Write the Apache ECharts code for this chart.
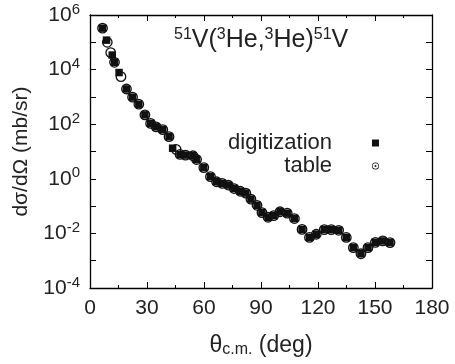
<!DOCTYPE html>
<html>
<head>
<meta charset="utf-8">
<script src="https://cdn.jsdelivr.net/npm/echarts@6/dist/echarts.min.js"></script>
<style>html,body{margin:0;padding:0;background:#fff}#c{width:455px;height:364px}</style>
</head>
<body>
<div id="c"></div>
<script>
// digitization (filled squares)
var digAngles = [6.6, 8.7, 11.7, 12.9, 15.3, 19.2, 22.4, 25.7, 28.9, 31.9, 34.8, 38.3, 41.6, 43.5, 47.4, 50.3, 54.2, 56.1, 59.9, 63.4, 66.6, 69.6, 72.8, 75.9, 79.1, 82.0, 84.7, 87.9, 90.5, 93.7, 96.7, 100.0, 103.8, 107.6, 111.6, 115.5, 119.1, 123.3, 127.0, 130.9, 134.9, 138.6, 142.6, 146.3, 150.2, 154.1, 157.9];
var digValues = [3.3e5, 1.2e5, 3.4e4, 1.85e4, 7.8e3, 1.95e3, 9.8e2, 5.4e2, 2.2e2, 1.07e2, 80, 63, 35, 13.2, 7.8, 7.4, 7.0, 5.1, 2.57, 1.2, 0.78, 0.68, 0.59, 0.44, 0.35, 0.30, 0.18, 0.107, 0.058, 0.039, 0.045, 0.062, 0.055, 0.035, 0.014, 0.0071, 0.0093, 0.0138, 0.0138, 0.0130, 0.0071, 0.0030, 0.0018, 0.0030, 0.0047, 0.0053, 0.0046];
// table (open circles)
var tabAngles = [6.6, 9.1, 10.9, 12.9, 16.3, 19.2, 22.4, 25.7, 28.9, 31.9, 34.8, 38.3, 41.6, 45.3, 47.4, 50.3, 54.2, 56.1, 59.9, 63.4, 66.6, 69.6, 72.8, 75.9, 79.1, 82.0, 84.7, 87.9, 90.5, 93.7, 96.7, 100.0, 103.8, 107.6, 111.6, 115.5, 119.1, 123.3, 127.0, 130.9, 134.9, 138.6, 142.6, 146.3, 150.2, 154.1, 157.9];
var tabValues = [3.3e5, 1.0e5, 4.2e4, 1.85e4, 5.5e3, 1.95e3, 9.8e2, 5.4e2, 2.2e2, 1.07e2, 80, 63, 35, 12, 7.8, 7.4, 7.0, 5.1, 2.57, 1.2, 0.78, 0.68, 0.59, 0.44, 0.35, 0.30, 0.18, 0.107, 0.058, 0.039, 0.045, 0.062, 0.055, 0.035, 0.014, 0.0071, 0.0093, 0.0138, 0.0138, 0.0130, 0.0071, 0.0030, 0.0018, 0.0030, 0.0047, 0.0053, 0.0046];
var xTicks = [0, 30, 60, 90, 120, 150, 180];
var yMinExp = -4, yMaxExp = 6;

function zip(a, b) { return a.map(function (v, i) { return [v, b[i]]; }); }

var FONT = 'Liberation Sans, Arial, Helvetica, sans-serif';
var TXT = '#222';
var chart = echarts.init(document.getElementById('c'), null, { renderer: 'canvas' });

var ringPath = 'path://M0,-5A5,5 0 1,1 0,5A5,5 0 1,1 0,-5ZM0,-4A4,4 0 1,0 0,4A4,4 0 1,0 0,-4ZM0,-1.4A1.4,1.4 0 1,1 0,1.4A1.4,1.4 0 1,1 0,-1.4Z';

var axisCommon = {
  axisLine: { show: true, onZero: false, lineStyle: { color: '#000', width: 1.3 } },
  splitLine: { show: false }
};

chart.setOption({
  animation: false,
  backgroundColor: '#fff',
  textStyle: { fontFamily: FONT },
  title: {
    left: 174, top: 27, padding: 0,
    text: '{s|51}{b|V(}{s|3}{b|He,}{s|3}{b|He)}{s|51}{b|V}',
    textStyle: {
      fontWeight: 'normal',
      rich: {
        b: { fontSize: 25, color: TXT, fontFamily: FONT, fontWeight: 'normal' },
        s: { fontSize: 16, color: TXT, fontFamily: FONT, fontWeight: 'normal', padding: [0, 0, 11, 0] }
      }
    }
  },
  legend: {
    orient: 'vertical',
    right: 76, top: 132, padding: 0,
    align: 'right',
    itemWidth: 7, itemHeight: 7,
    itemGap: 1,
    textStyle: { fontSize: 22, color: TXT, fontFamily: FONT, padding: [0, 35, 0, 0] },
    data: [
      { name: 'digitization', icon: 'rect', itemStyle: { color: '#111', borderWidth: 0, opacity: 1 } },
      { name: 'table', icon: ringPath, itemStyle: { color: '#111', borderWidth: 0, opacity: 1 } }
    ]
  },
  grid: { left: 90, right: 23, top: 15, bottom: 76, containLabel: false },
  xAxis: [
    Object.assign({}, axisCommon, {
      type: 'value', min: 0, max: 180, interval: 30,
      position: 'bottom',
      axisTick: { inside: true, length: 6, lineStyle: { color: '#000' } },
      minorTick: { show: true, splitNumber: 2, length: 3, lineStyle: { color: '#000' } },
      axisLabel: { fontSize: 21, color: TXT, margin: 10, fontFamily: FONT,
        formatter: function (v) { return xTicks.indexOf(v) >= 0 ? String(v) : ''; } },
      name: '{b|θ}{s|c.m.}{b| (deg)}',
      nameLocation: 'middle', nameGap: 45,
      nameTextStyle: {
        rich: {
          b: { fontSize: 23, color: TXT, fontFamily: FONT },
          s: { fontSize: 16, color: TXT, fontFamily: FONT, padding: [9, 0, 0, 0] }
        }
      }
    }),
    Object.assign({}, axisCommon, {
      type: 'value', min: 0, max: 180, interval: 30,
      position: 'top',
      axisTick: { inside: true, length: 6, lineStyle: { color: '#000' } },
      minorTick: { show: true, splitNumber: 2, length: 3, lineStyle: { color: '#000' } },
      axisLabel: { show: false }
    })
  ],
  yAxis: [
    Object.assign({}, axisCommon, {
      type: 'log', logBase: 10,
      min: Math.pow(10, yMinExp), max: Math.pow(10, yMaxExp), interval: 1,
      position: 'left',
      axisTick: { inside: true, length: 6, lineStyle: { color: '#000' } },
      axisLabel: {
        margin: 10, color: TXT, fontFamily: FONT,
        formatter: function (v) {
          var e = Math.round(Math.log10(v));
          if (e % 2 !== 0) return '';
          return '{b|10}{s|' + e + '}';
        },
        rich: {
          b: { fontSize: 21, color: TXT, fontFamily: FONT },
          s: { fontSize: 15, color: TXT, fontFamily: FONT, padding: [0, 0, 11, 0] }
        }
      },
      name: 'dσ/dΩ (mb/sr)',
      nameLocation: 'middle', nameGap: 58, nameRotate: 90,
      nameTextStyle: { fontSize: 21, color: TXT, fontFamily: FONT }
    }),
    Object.assign({}, axisCommon, {
      type: 'log', logBase: 10,
      min: Math.pow(10, yMinExp), max: Math.pow(10, yMaxExp), interval: 1,
      position: 'right',
      axisTick: { inside: true, length: 6, lineStyle: { color: '#000' } },
      axisLabel: { show: false }
    })
  ],
  series: [
    {
      name: 'digitization', type: 'scatter', xAxisIndex: 0, yAxisIndex: 0,
      symbol: 'rect', symbolSize: 7.5,
      itemStyle: { color: '#111', opacity: 1 },
      data: zip(digAngles, digValues)
    },
    {
      name: 'table', type: 'scatter', xAxisIndex: 0, yAxisIndex: 0,
      symbol: 'circle', symbolSize: 9.5,
      itemStyle: { color: 'rgba(0,0,0,0)', borderColor: '#111', borderWidth: 1.3, opacity: 1 },
      data: zip(tabAngles, tabValues)
    }
  ]
});
</script>
</body>
</html>
